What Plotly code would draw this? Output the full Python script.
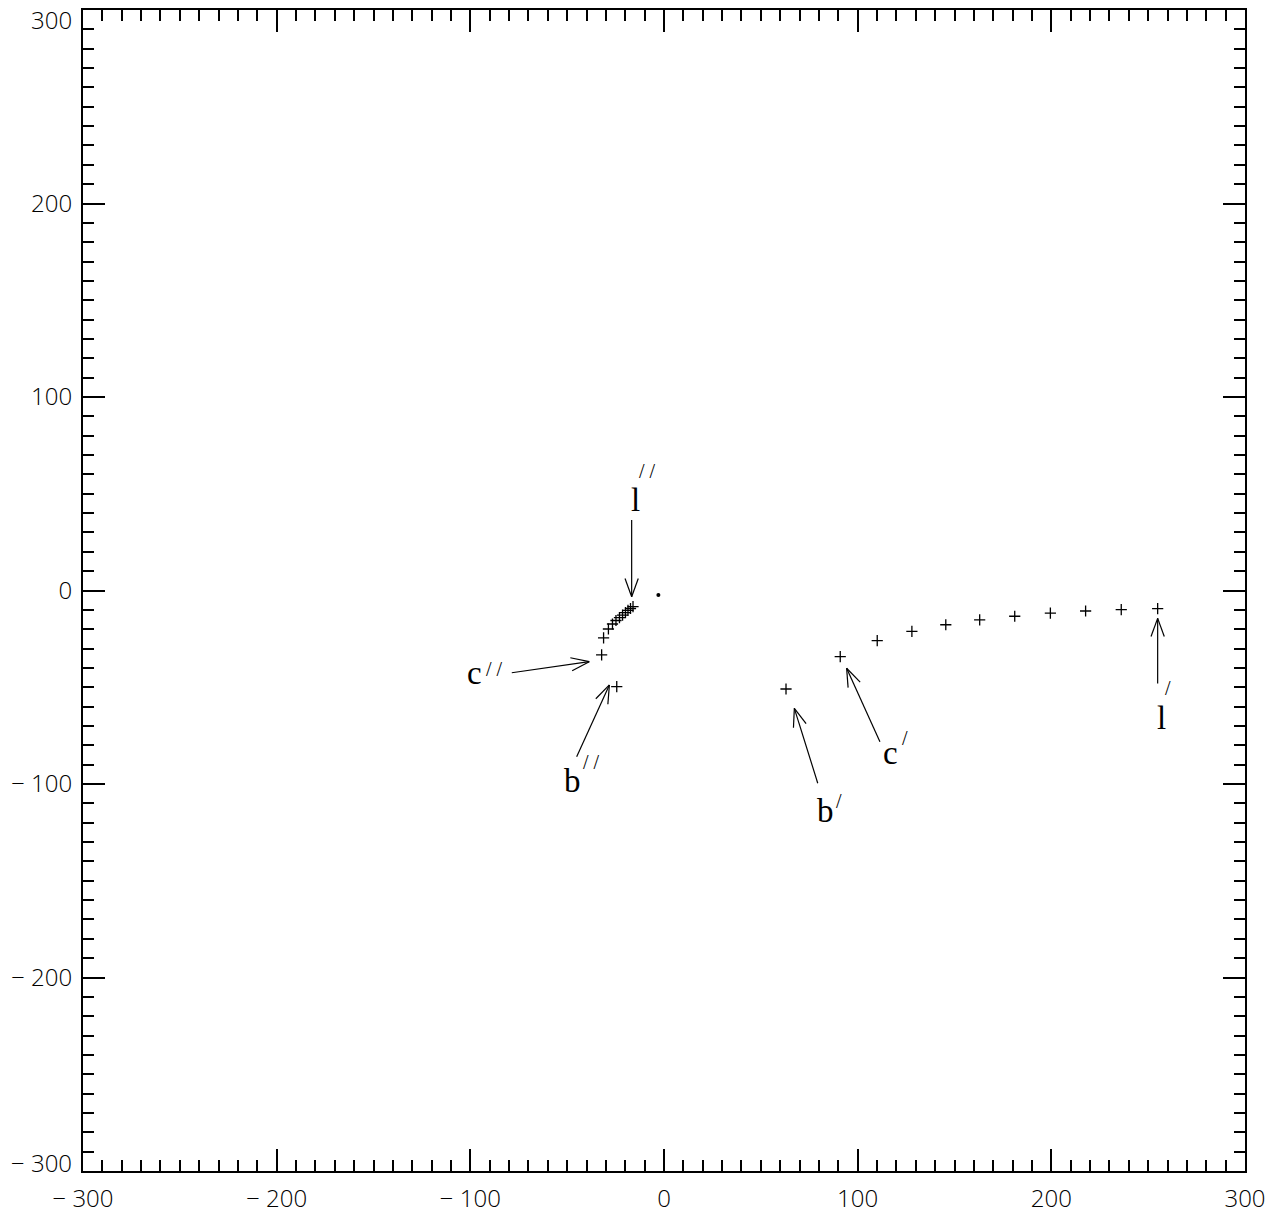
import numpy as np
import plotly.graph_objects as go

# ---- data ----
# primed branch (b', c', ..., l')
x_prime = [63.0, 91.0, 110.1, 128.0, 145.5, 163.0, 181.1, 199.5, 217.7, 236.1, 254.9]
y_prime = [-50.9, -34.2, -25.9, -21.1, -17.7, -15.2, -13.3, -11.7, -10.6, -9.9, -9.4]
# double-primed branch (b'', c'', ..., l'')
x_dprime = [-24.4, -32.2, -31.2, -28.7, -26.6, -24.8, -23.0, -21.4, -19.9, -18.6, -17.3, -16.0]
y_dprime = [-49.7, -33.3, -24.5, -19.9, -17.3, -15.5, -14.0, -12.7, -11.4, -10.3, -9.3, -8.3]
# central dot
x_dot = [-2.9]
y_dot = [-2.3]

# arrows: tail -> tip
arrow_names = ["l''", "c''", "b''", "b'", "c'", "l'"]
arrow_x0 = [-16.7, -78.6, -45.1, 79.4, 111.5, 254.9]
arrow_y0 = [36.4, -42.5, -85.9, -99.6, -78.2, -48.0]
arrow_x1 = [-16.7, -38.6, -28.2, 67.3, 94.3, 254.9]
arrow_y1 = [-3.2, -36.8, -48.8, -60.9, -40.2, -14.4]

# labels
label_letters = ["l", "c", "b", "b", "c", "l"]
label_x = [-14.5, -98.1, -47.0, 83.4, 116.8, 257.1]
label_y = [46.8, -42.6, -98.4, -113.9, -83.9, -66.1]
prime_marks = ["/ /", "/ /", "/ /", "/", "/", "/"]
prime_x = [-8.3, -87.3, -37.2, 90.4, 124.4, 260.4]
prime_y = [61.8, -40.6, -88.6, -109.0, -76.0, -50.6]

tick_vals = [-300, -200, -100, 0, 100, 200, 300]
x_tick_text = ["\u2212 300", "\u2212 200", "\u2212 100", "0", "100", "200", "300"]
# y end labels are drawn inside the axis span (as in the reference)
y_tick_text = ["", "\u2212 200", "\u2212 100", "0", "100", "200", ""]
y_end_vals = [300, -300]
y_end_text = ["300", "\u2212 300"]

# ---- arrow geometry (shaft + open V head) ----
head_len = 10.0
head_ang = np.deg2rad(20)
ax_pts, ay_pts = [], []
for x0, y0, x1, y1 in zip(arrow_x0, arrow_y0, arrow_x1, arrow_y1):
    ang = np.arctan2(y1 - y0, x1 - x0)
    ax_pts += [x0, x1, None]
    ay_pts += [y0, y1, None]
    for s in (1, -1):
        hx = x1 - head_len * np.cos(ang + s * head_ang)
        hy = y1 - head_len * np.sin(ang + s * head_ang)
        ax_pts += [x1, hx, None]
        ay_pts += [y1, hy, None]

fig = go.Figure()
fig.add_trace(go.Scatter(x=ax_pts, y=ay_pts, mode="lines",
                         line=dict(color="black", width=1.2), hoverinfo="skip"))
fig.add_trace(go.Scatter(x=x_prime, y=y_prime, mode="markers",
                         marker=dict(symbol="cross-thin", size=8,
                                     line=dict(color="black", width=1.3))))
fig.add_trace(go.Scatter(x=x_dprime, y=y_dprime, mode="markers",
                         marker=dict(symbol="cross-thin", size=8,
                                     line=dict(color="black", width=1.3))))
fig.add_trace(go.Scatter(x=x_dot, y=y_dot, mode="markers",
                         marker=dict(symbol="circle", size=4, color="black")))

tick_font = dict(family="Open Sans", size=24, color="black", weight=300)

annotations = []
for t, x, y in zip(label_letters, label_x, label_y):
    annotations.append(dict(x=x, y=y, xref="x", yref="y", text=t, showarrow=False,
                            xanchor="center", yanchor="middle",
                            font=dict(family="Liberation Serif", size=33, color="black")))
for t, x, y in zip(prime_marks, prime_x, prime_y):
    annotations.append(dict(x=x, y=y, xref="x", yref="y", text=t, showarrow=False,
                            xanchor="center", yanchor="middle",
                            font=dict(family="Liberation Serif", size=20, color="black")))
for t, v in zip(y_end_text, y_end_vals):
    annotations.append(dict(x=0, y=v, xref="paper", yref="y", text=t, showarrow=False,
                            xanchor="right", yanchor="top" if v > 0 else "bottom",
                            xshift=-9, yshift=9 if v > 0 else -10,
                            font=tick_font))

axis_common = dict(
    range=[-300, 300], tickmode="array", tickvals=tick_vals,
    ticks="inside", ticklen=22, tickwidth=1.5, tickcolor="black",
    minor=dict(dtick=10, ticks="inside", ticklen=11, tickwidth=1.5, tickcolor="black"),
    showline=True, linewidth=2, linecolor="black", mirror="ticks",
    showgrid=False, zeroline=False, automargin=False,
    ticklabeloverflow="allow",
    tickfont=tick_font,
)

fig.update_layout(
    width=1286, height=1218,
    margin=dict(l=83, r=41, t=10, b=47),
    paper_bgcolor="white", plot_bgcolor="white",
    showlegend=False,
    xaxis=dict(**axis_common, ticktext=x_tick_text, ticklabelstandoff=5),
    yaxis=dict(**axis_common, ticktext=y_tick_text, ticklabelstandoff=4),
    annotations=annotations,
)

fig.write_html("out.html")
